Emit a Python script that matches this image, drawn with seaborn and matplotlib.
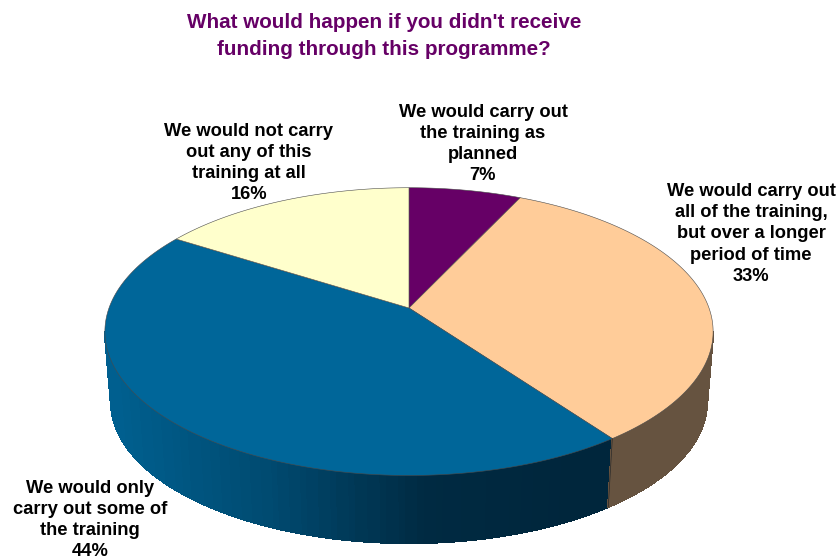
import numpy as np
import matplotlib
matplotlib.use("Agg")
import matplotlib.pyplot as plt
from matplotlib.collections import PolyCollection
import seaborn as sns

# Survey shares, clockwise from twelve o'clock
answers = [
    "We would carry out\nthe training as\nplanned",
    "We would carry out\nall of the training,\nbut over a longer\nperiod of time",
    "We would only\ncarry out some of\nthe training",
    "We would not carry\nout any of this\ntraining at all",
]
shares = [7, 33, 44, 16]
top_colors = ["#660066", "#FFCC99", "#006699", "#FFFFCC"]
title_text = "What would happen if you didn't receive\nfunding through this programme?"

sns.set_theme(style="white")
plt.rcParams["font.family"] = ["Liberation Sans", "DejaVu Sans"]

fig = plt.figure(figsize=(8.4, 5.6), dpi=100)
ax = fig.add_axes([0, 0, 1, 1])
ax.set_xlim(0, 840)
ax.set_ylim(560, 0)
ax.axis("off")

# Perspective disc: a circle pushed through a simple projective map
CX, CY = 409, 308
RX, RY, TILT = 300, 140, 0.164


def rim(theta, scale=1.0, drop=0.0):
    denom = 1 + TILT * np.sin(theta)
    x = CX + scale * RX * np.cos(theta) / denom
    y = CY + drop - scale * RY * np.sin(theta) / denom
    return x, y


fractions = np.cumsum([0] + shares) / sum(shares)
angles = np.pi / 2 - 2 * np.pi * fractions

# Side wall, shaded strip by strip, running between the disc's silhouette points
DEPTH, BASE = 71, 0.98
silhouette = np.arcsin(TILT)
blues = sns.blend_palette(["#005F8F", "#004A70", "#002A42", "#00263C"], n_colors=48)
wall_edges = np.linspace(-np.pi + silhouette, -silhouette, 160)
quads, colors = [], []
for a, b in zip(wall_edges[:-1], wall_edges[1:]):
    xa, ya = rim(a)
    xb, yb = rim(b)
    xc, yc = rim(b, BASE, DEPTH)
    xd, yd = rim(a, BASE, DEPTH)
    quads.append([(xa, ya), (xb, yb), (xc, yc), (xd, yd)])
    mid = (a + b) / 2
    if mid > angles[2]:
        colors.append("#665340")
    else:
        pos = np.clip((xa - 110) / (570 - 110), 0, 1)
        colors.append(blues[int(pos * (len(blues) - 1))])
ax.add_collection(PolyCollection(quads, facecolors=colors, edgecolors=colors,
                                 linewidths=0.8, antialiaseds=False))

# Seam between the two visible wall colours
sx0, sy0 = rim(angles[2])
sx1, sy1 = rim(angles[2], BASE, DEPTH)
ax.plot([sx0, sx1], [sy0, sy1], color="#2a2a2a", lw=0.5)

# Top surface
for start, stop, face in zip(angles[:-1], angles[1:], top_colors):
    theta = np.linspace(start, stop, 160)
    x, y = rim(theta)
    ax.fill(np.r_[CX, x], np.r_[CY, y], facecolor=face, edgecolor="#4a4a4a", linewidth=0.4, joinstyle="round")

# Slice captions
label_centers = [(483, 144), (751, 234), (90, 520), (249, 163)]
for text, share, (lx, ly) in zip(answers, shares, label_centers):
    ax.text(lx, ly, f"{text}\n{share}%", ha="center", va="center", fontsize=13.2,
            fontweight="bold", color="black", linespacing=1.32)

ax.text(384, 36, title_text, ha="center", va="center", fontsize=14.9, fontweight="bold",
        color="#660066", linespacing=1.55)

fig.savefig("out.png", dpi=100, facecolor="white")
